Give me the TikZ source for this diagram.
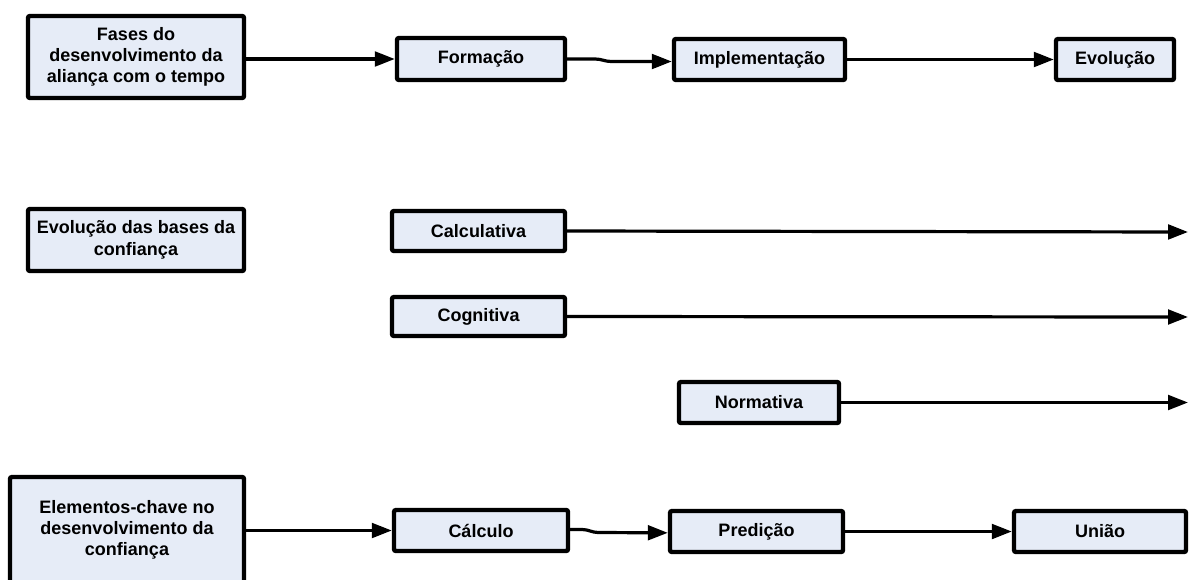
\documentclass[tikz,border=0pt]{standalone}
\usepackage{fontspec}
\setmainfont{Liberation Sans}
\usetikzlibrary{arrows.meta,calc}
\newdimen\pxu \pxu=0.75pt
\definecolor{boxfill}{HTML}{E6ECF7}
\tikzset{
  box/.style={draw=black, line width=3.3pt, fill=boxfill, rounded corners=1.5pt,
    align=center, inner sep=0pt, font=\fontsize{13.5}{16}\selectfont\bfseries},
  link/.style={line width=2.4pt, -{Triangle[length=15pt,width=11pt]}}
}
\begin{document}
\begin{tikzpicture}[x=0.75pt,y=-0.75pt]
\useasboundingbox (0,0) rectangle (1191,579);
\clip (0,0) rectangle (1191,579);
% row 1
\node[box, minimum width=216\pxu, minimum height=82\pxu] (fases) at (136,57) {Fases do\\desenvolvimento da\\aliança com o tempo};
\node[box, minimum width=168\pxu, minimum height=42\pxu] (form) at (481,59) {Formação};
\node[box, minimum width=171\pxu, minimum height=41\pxu] (impl) at (759.5,59.5) {Implementação};
\node[box, minimum width=118\pxu, minimum height=41\pxu] (evol) at (1115,59.5) {Evolução};
% row 2
\node[box, minimum width=216\pxu, minimum height=62\pxu] (bases) at (136,240) {Evolução das bases da\\confiança};
\node[box, minimum width=173\pxu, minimum height=40\pxu] (calc) at (478.5,231) {Calculativa};
\node[box, minimum width=173\pxu, minimum height=39\pxu] (cogn) at (478.5,316.5) {Cognitiva};
\node[box, minimum width=160\pxu, minimum height=41\pxu] (norm) at (759,402.5) {Normativa};
\coordinate (calcEnd) at (1188,232);
\coordinate (cognEnd) at (1188,317);
\coordinate (normEnd) at (1188,402.5);
% row 3
\node[box, minimum width=234\pxu, minimum height=106\pxu] (elem) at (127,530) {Elementos-chave no\\desenvolvimento da\\confiança};
\node[box, minimum width=174\pxu, minimum height=41\pxu] (calculo) at (481,530.5) {Cálculo};
\node[box, minimum width=173\pxu, minimum height=41\pxu] (pred) at (756.5,531.5) {Predição};
\node[box, minimum width=172\pxu, minimum height=41\pxu] (uniao) at (1100,531.5) {União};
% connectors
\draw[link] (fases.east |- form.west) -- (form.west);
\draw[link] (form.east) -- ++(28,0) to[out=0,in=180] ++(16,2.5) -- ([yshift=-1.5pt]impl.west);
\draw[link] (impl.east) -- (evol.west);
\draw[link] (calc.east) -- (calcEnd);
\draw[link] (cogn.east) -- (cognEnd);
\draw[link] (norm.east) -- (normEnd);
\draw[link] (elem.east |- calculo.west) -- (calculo.west);
\draw[link] ([yshift=0.75pt]calculo.east) -- ++(12,0) to[out=0,in=180] ++(16,3) -- ([yshift=-1pt]pred.west);
\draw[link] (pred.east) -- (uniao.west);
\end{tikzpicture}
\end{document}
